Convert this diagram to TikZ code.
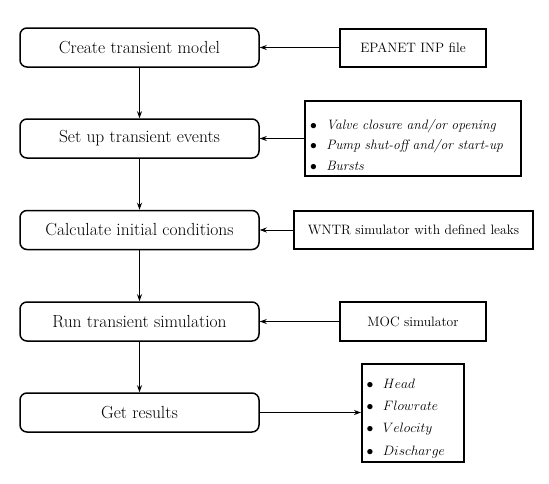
\documentclass[tikz,border=0pt]{standalone}
\usepackage{fix-cm}
\usepackage{fontspec}
\usetikzlibrary{arrows.meta}
\newcommand\itm{$\bullet$\hspace{9.5pt}}
\begin{document}
\begin{tikzpicture}[x=1pt,y=-1pt,
 mainbox/.style={draw,rounded corners=7pt,line width=1.5pt,minimum width=239pt,minimum height=39pt,font=\fontsize{17.5}{21}\selectfont,inner sep=0pt},
 sidebox/.style={draw,line width=2pt,font=\fontsize{13.6}{16}\selectfont,inner sep=0pt},
 listbox/.style={draw,line width=2pt,align=left,inner ysep=0pt},
 arr/.style={-{Stealth[length=7pt,width=5pt]},line width=0.8pt}]
\useasboundingbox (0,0) rectangle (549,483);
\node[mainbox] (m1) at (139.5,47.5) {Create transient model};
\node[mainbox] (m2) at (139.5,138.5) {Set up transient events};
\node[mainbox] (m3) at (139.5,230) {Calculate initial conditions};
\node[mainbox] (m4) at (139.5,321.5) {Run transient simulation};
\node[mainbox] (m5) at (139.5,412.5) {Get results};

\node[sidebox,minimum width=146pt,minimum height=38pt] (s1) at (413,47.5) {EPANET INP file};
\node[listbox,font=\fontsize{13.6}{20.8}\selectfont,minimum width=216pt,minimum height=75pt,text width=206pt,inner xsep=5pt,text height=23pt] (s2) at (413,138.5)
 {\itm\textit{Valve closure and/or opening}\\
  \itm\textit{Pump shut-off and/or start-up}\\
  \itm\textit{Bursts}};
\node[sidebox,minimum width=239pt,minimum height=38pt] (s3) at (413.5,230) {WNTR simulator with defined leaks};
\node[sidebox,minimum width=146pt,minimum height=39pt] (s4) at (413,321.5) {MOC simulator};
\node[listbox,font=\fontsize{13.6}{22.3}\selectfont,minimum width=102pt,minimum height=98pt,text width=93pt,inner xsep=4.5pt,text height=21pt] (s5) at (413,412.5)
 {\itm$Head$\\
  \itm$Flowrate$\\
  \itm$Velocity$\\
  \itm$Discharge$};

\draw[arr] (m1) -- (m2);
\draw[arr] (m2) -- (m3);
\draw[arr] (m3) -- (m4);
\draw[arr] (m4) -- (m5);
\draw[arr] (s1) -- (m1);
\draw[arr] (s2.west) -- (m2.east);
\draw[arr] (s3) -- (m3);
\draw[arr] (s4) -- (m4);
\draw[arr] (m5) -- (s5);
\end{tikzpicture}
\end{document}
